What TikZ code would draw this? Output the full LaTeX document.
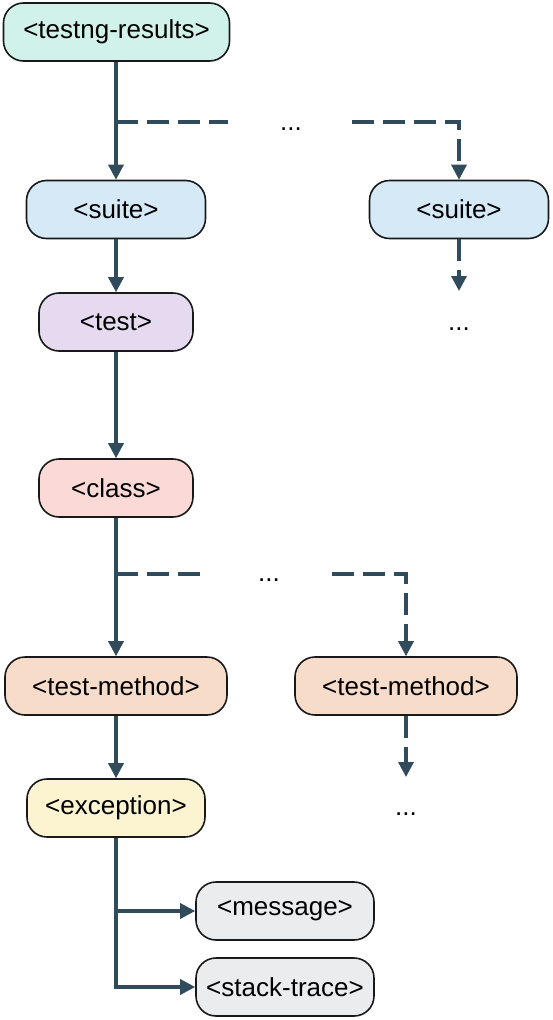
\documentclass[tikz,border=0pt]{standalone}
\usepackage{fontspec}
\setmainfont{Liberation Sans}
\usetikzlibrary{arrows.meta}
\definecolor{lc}{RGB}{47,75,92}
\definecolor{cTR}{RGB}{208,242,234}
\definecolor{cSU}{RGB}{214,233,247}
\definecolor{cTE}{RGB}{230,218,240}
\definecolor{cCL}{RGB}{250,217,214}
\definecolor{cTM}{RGB}{248,220,202}
\definecolor{cEX}{RGB}{252,244,208}
\definecolor{cMS}{RGB}{235,236,238}
\tikzset{
  box/.style={draw=black!90, line width=1.6pt, rounded corners=20pt, minimum height=58pt, inner sep=0pt,
    font=\fontsize{26}{30}\selectfont},
  dots/.style={font=\fontsize{26}{30}\selectfont, anchor=base, inner sep=0pt},
  conn/.style={draw=lc, line width=3.3pt},
  arr/.style={conn, -{Triangle[width=15pt,length=15pt]}},
  dsh/.style={dash pattern=on 22pt off 9pt},
}
\begin{document}
\begin{tikzpicture}[x=1pt,y=-1pt]
\useasboundingbox (0,0) rectangle (552,1020);
\node[box, fill=cTR, minimum width=226pt] (tr) at (116.5,32) {<testng-results>};
\node[box, fill=cSU, minimum width=179pt] (s1) at (116,209.5) {<suite>};
\node[box, fill=cSU, minimum width=179pt] (s2) at (459,209.5) {<suite>};
\node[box, fill=cTE, minimum width=154pt] (te) at (116,322) {<test>};
\node[box, fill=cCL, minimum width=154pt] (cl) at (116,488) {<class>};
\node[box, fill=cTM, minimum width=222pt] (tm1) at (116,686) {<test-method>};
\node[box, fill=cTM, minimum width=222pt] (tm2) at (406,686) {<test-method>};
\node[box, fill=cEX, minimum width=178pt] (ex) at (116,808) {<exception>};
\node[box, fill=cMS, minimum width=178pt] (ms) at (285,911) {<message>};
\node[box, fill=cMS, minimum width=178pt] (st) at (285,987) {<stack-trace>};

\node[dots] (d1) at (291,130) {...};
\node[dots] (d2) at (459,330) {...};
\node[dots] (d3) at (269,581) {...};
\node[dots] (d4) at (406,815) {...};

\coordinate (b1) at (116,122);
\coordinate (g1) at (228,122);
\coordinate (g2) at (352,122);
\coordinate (e1) at (459,291);
\coordinate (b2) at (116,574);
\coordinate (g3) at (204,574);
\coordinate (g4) at (332,574);
\coordinate (e2) at (406,777);

\draw[arr] (tr.south -| s1.north) -- (s1);
\draw[conn, dsh] (b1) -- (g1);
\draw[arr, dsh] (g2) -| (s2.north);
\draw[arr, dsh] (s2) -- (e1);
\draw[arr] (s1) -- (te);
\draw[arr] (te) -- (cl);
\draw[arr] (cl) -- (tm1);
\draw[conn, dsh] (b2) -- (g3);
\draw[arr, dsh] (g4) -| (tm2.north);
\draw[arr, dsh] (tm2) -- (e2);
\draw[arr] (tm1) -- (ex);
\draw[arr] (ex.south) |- (ms.west);
\draw[arr] (ex.south) |- (st.west);
\end{tikzpicture}
\end{document}
